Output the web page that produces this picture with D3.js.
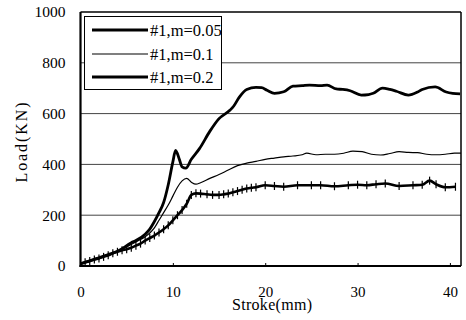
<!DOCTYPE html>
<html>
<head>
<meta charset="utf-8">
<script src="https://cdn.jsdelivr.net/npm/d3@7"></script>
<style>
  body { margin: 0; background: #fff; }
</style>
</head>
<body>
<div id="chart"></div>
<script>
// stroke (mm) / load (kN)
var x005 = [0,1,2,3,4,5,5.5,6,7,7.5,8,8.5,9,9.5,10,10.3,10.7,11,11.4,12,12.9,14,15,16.2,16.6,17.2,18,19,19.6,20.2,21,22,23,24,24.8,26,26.7,27.7,28.4,29.2,30.4,31.2,31.7,32.7,33.5,34.2,35.5,36.5,37,38.4,39.6,40.3,41.1];
var y005 = [8,20,32,45,58,80,92,100,125,145,175,210,250,320,410,455,420,390,385,420,463,530,580,614,630,665,695,703,702,692,680,686,708,710,712,710,712,697,695,690,673,675,680,700,695,688,673,685,695,705,685,680,678];

var x01 = [0,1,2,3,4,5,5.5,6,7,7.5,8,8.5,9,9.5,10,10.5,11,11.5,12,12.5,13,14,15,16,17,18,19,20,21,22,23,24,24.5,25.5,26.5,27.5,28.5,29.5,30.5,31.5,32.5,33.5,34.5,35.5,36.5,37.5,38.5,39.5,40.5,41.2];
var y01 = [8,20,32,45,58,75,85,95,115,130,150,180,210,240,275,310,335,345,330,322,328,345,360,378,395,405,412,420,425,430,433,438,444,438,440,440,444,452,450,440,437,443,450,447,446,440,438,440,444,444];

var x02 = [0,0.5,1,1.5,2,2.5,3,3.5,4,4.5,5,5.5,6,6.5,7,7.5,8,8.5,9,9.5,10,10.5,11,11.5,12,12.5,13,13.7,14.3,15,15.5,16,16.5,17,17.5,18,18.5,19,20,21,22,23.5,25,26,27.5,29,30,31,32,33,34.5,36,37,37.8,38.5,39.5,40.6];
var y02 = [10,15,20,26,30,36,42,50,56,62,66,72,80,88,100,110,120,132,145,160,180,200,220,245,280,286,285,282,280,280,282,285,290,295,300,305,308,310,318,315,312,318,318,318,314,318,320,318,322,325,315,318,320,336,322,310,312];

var seriesNames = ["#1,m=0.05", "#1,m=0.1", "#1,m=0.2"];
var xTicks = [0, 10, 20, 30, 40];
var yTicks = [0, 200, 400, 600, 800, 1000];

var width = 466, height = 320;
var pLeft = 80.5, pRight = 461, pTop = 12, pBottom = 266;
var serif = "'Liberation Serif', 'Times New Roman', serif";

var svg = d3.select("#chart").append("svg")
            .attr("width", width)
            .attr("height", height);

var x = d3.scaleLinear().domain([0, 41.2]).range([pLeft, pRight]);
var y = d3.scaleLinear().domain([0, 1000]).range([pBottom, pTop]);

// grid lines
svg.append("g")
   .selectAll("line")
   .data(yTicks.filter(function(d) { return d > 0 && d < 1000; }))
   .enter().append("line")
   .attr("x1", pLeft).attr("x2", pRight)
   .attr("y1", function(d) { return y(d); })
   .attr("y2", function(d) { return y(d); })
   .attr("stroke", "#444")
   .attr("stroke-width", 1);

// axes with inward ticks
var xAxis = svg.append("g")
   .attr("transform", "translate(0," + pBottom + ")")
   .call(d3.axisBottom(x).tickValues(xTicks).tickSize(-3).tickPadding(20).tickFormat(d3.format("d")));
xAxis.select(".domain").remove();
xAxis.selectAll("text").style("font-size", "15px").style("font-family", serif).attr("fill", "#000");
xAxis.selectAll("line").attr("stroke", "#000");

var yAxis = svg.append("g")
   .attr("transform", "translate(" + pLeft + ",0)")
   .call(d3.axisLeft(y).tickValues(yTicks).tickSize(0).tickPadding(15).tickFormat(d3.format("d")));
yAxis.select(".domain").remove();
yAxis.selectAll("text").style("font-size", "15.5px").style("font-family", serif).attr("fill", "#000");

// frame
svg.append("line").attr("x1", pLeft).attr("x2", pRight).attr("y1", pTop).attr("y2", pTop)
   .attr("stroke", "#000").attr("stroke-width", 1.5);
svg.append("line").attr("x1", pRight).attr("x2", pRight).attr("y1", pTop).attr("y2", pBottom)
   .attr("stroke", "#000").attr("stroke-width", 1.5);
svg.append("line").attr("x1", pLeft).attr("x2", pLeft).attr("y1", pTop).attr("y2", pBottom + 1)
   .attr("stroke", "#000").attr("stroke-width", 2.2);
svg.append("line").attr("x1", pLeft - 1).attr("x2", pRight).attr("y1", pBottom).attr("y2", pBottom)
   .attr("stroke", "#000").attr("stroke-width", 2.2);

var line = d3.line()
             .x(function(d) { return x(d[0]); })
             .y(function(d) { return y(d[1]); })
             .curve(d3.curveMonotoneX);

var s005 = d3.zip(x005, y005);
var s01 = d3.zip(x01, y01);
var s02 = d3.zip(x02, y02);

svg.append("path").datum(s01).attr("d", line)
   .attr("fill", "none").attr("stroke", "#000").attr("stroke-width", 1.2);
svg.append("path").datum(s02).attr("d", line)
   .attr("fill", "none").attr("stroke", "#000").attr("stroke-width", 2.6);
svg.append("path").datum(s005).attr("d", line)
   .attr("fill", "none").attr("stroke", "#000").attr("stroke-width", 2.8);

// small vertical tick markers on m=0.2
svg.append("g").selectAll("line")
   .data(s02.slice(1))
   .enter().append("line")
   .attr("x1", function(d) { return x(d[0]); })
   .attr("x2", function(d) { return x(d[0]); })
   .attr("y1", function(d) { return y(d[1]) - 4; })
   .attr("y2", function(d) { return y(d[1]) + 4; })
   .attr("stroke", "#000").attr("stroke-width", 1.2);

// legend
var legend = svg.append("g");
legend.append("rect")
      .attr("x", 84.5).attr("y", 16.5).attr("width", 137).attr("height", 73)
      .attr("fill", "#fff").attr("stroke", "#000").attr("stroke-width", 1);
var legendWidths = [3, 1.2, 2.8];
var legendY = [30, 54, 77];
seriesNames.forEach(function(name, i) {
  legend.append("line")
        .attr("x1", 92).attr("x2", 148)
        .attr("y1", legendY[i]).attr("y2", legendY[i])
        .attr("stroke", "#000").attr("stroke-width", legendWidths[i]);
  legend.append("text")
        .attr("x", 150).attr("y", legendY[i] + 5.5)
        .style("font-family", serif)
        .style("font-size", "16.5px")
        .text(name);
});

// axis titles
svg.append("text")
   .attr("x", 272).attr("y", 310)
   .attr("text-anchor", "middle")
   .style("font-family", serif)
   .style("font-size", "16px")
   .attr("textLength", 80)
   .attr("lengthAdjust", "spacing")
   .text("Stroke(mm)");
svg.append("text")
   .attr("transform", "translate(27,142.5) rotate(-90)")
   .attr("text-anchor", "middle")
   .style("font-family", serif)
   .style("font-size", "16px")
   .attr("textLength", 80)
   .attr("lengthAdjust", "spacing")
   .text("Load(KN)");
</script>
</body>
</html>
